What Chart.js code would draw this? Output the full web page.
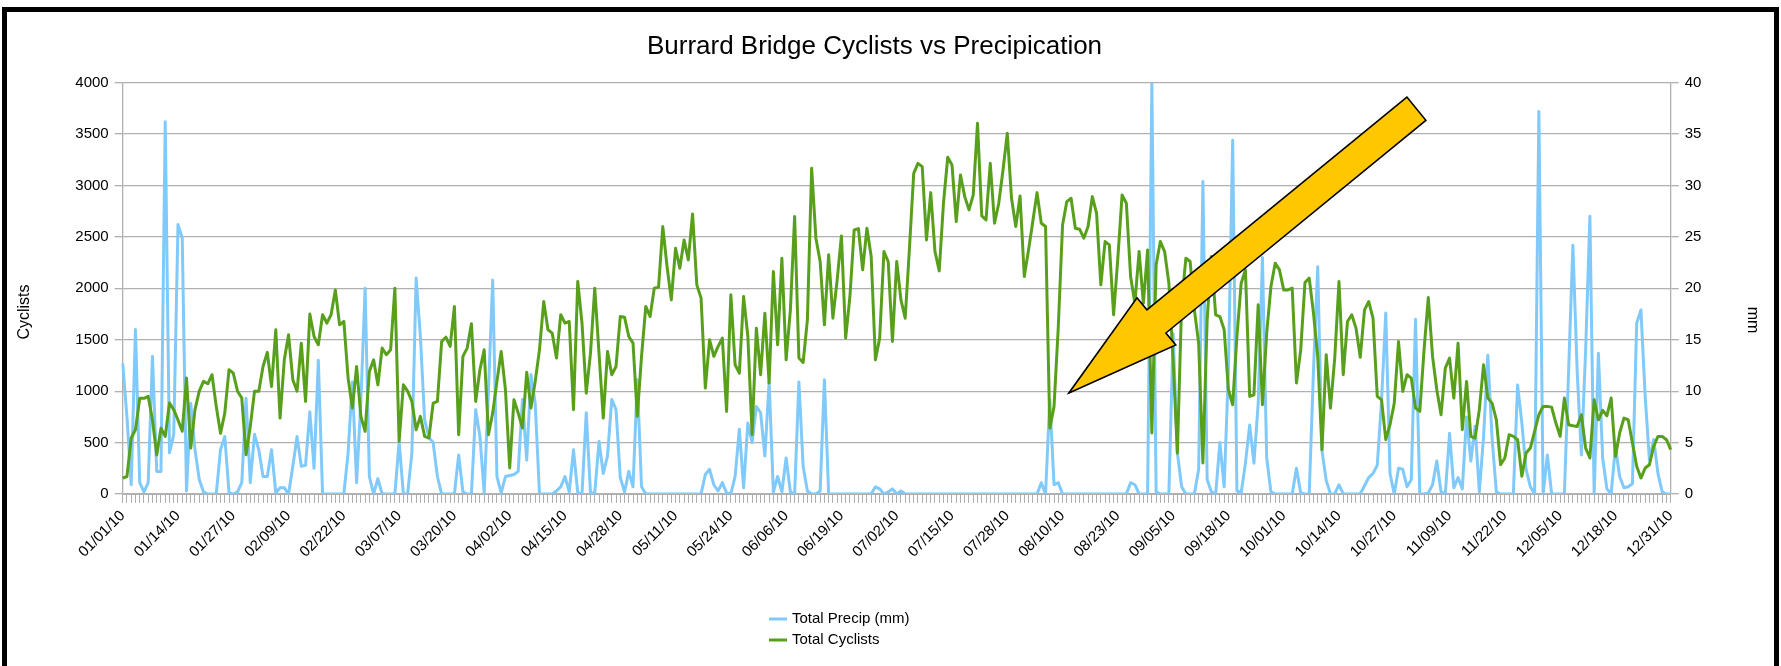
<!DOCTYPE html>
<html>
<head>
<meta charset="utf-8">
<title>Burrard Bridge Cyclists vs Precipication</title>
<script src="https://cdn.jsdelivr.net/npm/chart.js@4.4.1/dist/chart.umd.min.js"></script>
<style>
  html, body { margin: 0; padding: 0; background: #fff; }
  #wrap { width: 1781px; height: 666px; }
</style>
</head>
<body>
<div id="wrap"><canvas id="chart" width="1781" height="666"></canvas></div>
<script>
// daily counts across the bridge, 2010-01-01 .. 2010-12-31
const cyclists = [
  155,170,545,625,930,930,950,720,380,640,
  560,885,820,720,610,1127,447,820,1000,1095,
  1072,1160,850,590,787,1208,1176,1000,933,382,
  657,1000,1000,1240,1377,1046,1597,738,1305,1548,
  1111,1000,1467,900,1750,1532,1451,1743,1662,1743,
  1985,1645,1678,1127,836,1240,755,609,1192,1305,
  1062,1419,1354,1402,2002,512,1062,1000,900,625,
  755,560,544,884,900,1483,1525,1435,1824,577,
  1338,1419,1655,900,1208,1402,577,787,1095,1386,
  1014,253,917,787,641,1184,836,1095,1402,1872,
  1597,1564,1322,1743,1662,1678,820,2067,1662,981,
  1370,2002,1370,738,1386,1160,1240,1726,1720,1532,
  1467,755,1338,1824,1726,2002,2012,2601,2212,1888,
  2390,2196,2471,2277,2724,2034,1905,1030,1500,1338,
  1435,1516,803,1937,1257,1176,1921,1532,577,1613,
  1160,1759,1079,2164,1451,2293,1305,1791,2698,1322,
  1279,1694,3168,2488,2261,1645,2326,1710,2083,2510,
  1516,1921,2569,2581,2180,2585,2310,1305,1516,2358,
  2261,1483,2261,1888,1710,2390,3119,3216,3184,2471,
  2931,2358,2170,2828,3275,3200,2650,3103,2892,2763,
  2909,3605,2705,2666,3216,2633,2828,3151,3508,2876,
  2601,2899,2115,2374,2650,2931,2633,2601,641,852,
  1629,2617,2844,2876,2585,2575,2488,2601,2892,2730,
  2034,2455,2423,1743,2293,2909,2828,2115,1856,2358,
  1856,2374,593,2230,2455,2358,2050,1300,398,1856,
  2293,2261,1791,1467,301,1694,2310,1743,1726,1597,
  1014,868,1532,2050,2180,949,965,1840,868,1564,
  2018,2245,2180,1985,1985,2002,1079,1402,2057,2099,
  1759,1338,431,1354,836,1322,2067,1160,1678,1743,
  1613,1330,1791,1872,1710,949,917,528,674,884,
  1483,998,1160,1127,836,803,1400,1911,1338,1014,
  771,1224,1322,933,1467,625,1095,560,544,820,
  1257,933,884,722,285,350,577,560,528,172,
  398,447,609,771,852,852,845,690,560,933,
  674,664,657,771,447,350,917,722,813,761,
  933,366,593,738,722,496,269,155,253,285,
  463,560,560,528,431
];

// daily precipitation in mm
const precip = [
  12.7,7.5,0.9,16,1.1,0.2,1.1,13.4,2.2,2.2,
  36.2,4,5.8,26.2,24.9,0.3,8.8,4.3,1.4,0.2,
  0,0,0,4.3,5.6,0.1,0,0.2,1.1,9.3,
  1.1,5.8,4.3,1.7,1.7,4.3,0.1,0.6,0.6,0,
  2.7,5.6,2.7,2.8,8,2.5,13,0,0,0,
  0,0,0,4,10.9,1.1,9,20,1.7,0,
  1.5,0,0,0,0,5.1,0,0,4,21,
  15.3,7.2,5.5,5,1.7,0,0,0,0,3.8,
  0.2,0,0,8.2,5.6,0.1,10,20.8,1.7,0.1,
  1.7,1.8,1.9,2.2,9.2,3.3,11.6,8.8,0,0,
  0,0,0.3,0.7,1.7,0.2,4.3,0.1,0,7.9,
  0.1,0.1,5.1,2,3.7,9.2,8.2,1.6,0.2,2.2,
  0.7,11.1,0.7,0,0,0,0,0,0,0,
  0,0,0,0,0,0,0,1.9,2.4,0.9,
  0.3,1.1,0.1,0,1.7,6.3,0.6,6.9,5,8.5,
  7.9,3.7,10.9,0.2,1.7,0.2,3.5,0.2,0,10.9,
  2.7,0.3,0,0,0.3,11.1,0,0,0,0,
  0,0,0,0,0,0,0,0.7,0.5,0,
  0.2,0.5,0,0.3,0,0,0,0,0,0,
  0,0,0,0,0,0,0,0,0,0,
  0,0,0,0,0,0,0,0,0,0,
  0,0,0,0,0,0,1.1,0,9.2,0.9,
  1.1,0,0,0,0,0,0,0,0,0,
  0,0,0,0,0,0,0,1.1,0.9,0,
  0,0,40,0.2,0,0,0,15.6,4,0.7,
  0,0,0,2.4,30.4,1.4,0.2,0,5,0.7,
  12,34.4,0.3,0.1,3,6.7,3,8.8,23,3.5,
  0.2,0,0,0,0,0,2.5,0.1,0,0,
  12,22.1,4.2,1.3,0,0,0.9,0,0,0,
  0,0,0.8,1.6,2,2.8,9,17.6,2,0,
  2.5,2.4,0.7,1.4,17,0,0,0.1,0.9,3.2,
  0.2,0,5.9,0.6,1.6,0.5,7.5,3.2,6.6,0.2,
  5.6,13.5,5.4,0.2,0,0,0,0,10.6,6.9,
  2.4,0.7,0,37.2,0,3.8,0,0,0,0,
  12,24.2,12,3.8,14,27,0,13.7,3.5,0.5,
  0,4.6,1.7,0.6,0.7,1,16.6,17.9,9.5,3.3,
  5.3,2,0.2,0,0
];

// categories: every day of 2010 as MM/DD/YY, one label shown every 13 days
const days = [];
for (let d = new Date(2010, 0, 1); d.getFullYear() === 2010; d.setDate(d.getDate() + 1)) {
  const mm = String(d.getMonth() + 1).padStart(2, '0');
  const dd = String(d.getDate()).padStart(2, '0');
  days.push(mm + '/' + dd + '/10');
}
const labelEvery = 13;

// arrow callout, in data units (day index, cyclists)
const arrowTip = [222.5, 983];
const arrowTail = [304.2, 3747];

const FONT = '"Liberation Sans", Arial, Helvetica, sans-serif';
Chart.defaults.font.family = FONT;
Chart.defaults.color = '#000';

const GRID = '#b0b0b0';
const BLUE = '#80c9fb';
const GREEN = '#58a01c';

// axis titles, arrow, stacked legend and frame
const extras = {
  id: 'extras',
  afterDraw(chart) {
    const ctx = chart.ctx;
    const x = chart.scales.x, y = chart.scales.y;

    // axis titles (sit a bit below the plot middle, as in the original)
    ctx.save();
    ctx.font = '16px ' + FONT;
    ctx.fillStyle = '#000';
    ctx.textAlign = 'center';
    ctx.textBaseline = 'middle';
    ctx.translate(25, 312);
    ctx.rotate(-Math.PI / 2);
    ctx.fillText('Cyclists', 0, 0);
    ctx.restore();
    ctx.save();
    ctx.font = '16px ' + FONT;
    ctx.fillStyle = '#000';
    ctx.textAlign = 'center';
    ctx.textBaseline = 'middle';
    ctx.translate(1752, 320);
    ctx.rotate(Math.PI / 2);
    ctx.fillText('mm', 0, 0);
    ctx.restore();

    // arrow
    const px = v => x.getPixelForDecimal(v / (days.length - 1));
    const tip = [px(arrowTip[0]), y.getPixelForValue(arrowTip[1])];
    const tail = [px(arrowTail[0]), y.getPixelForValue(arrowTail[1])];
    let dx = tail[0] - tip[0], dy = tail[1] - tip[1];
    const len = Math.hypot(dx, dy);
    dx /= len; dy /= len;
    const nx = -dy, ny = dx;
    const headLen = 113, headW = 30.6, shaftW = 15;
    const bx = tip[0] + dx * headLen, by = tip[1] + dy * headLen;
    ctx.save();
    ctx.beginPath();
    ctx.moveTo(tip[0], tip[1]);
    ctx.lineTo(bx + nx * headW, by + ny * headW);
    ctx.lineTo(bx + nx * shaftW, by + ny * shaftW);
    ctx.lineTo(tail[0] + nx * shaftW, tail[1] + ny * shaftW);
    ctx.lineTo(tail[0] - nx * shaftW, tail[1] - ny * shaftW);
    ctx.lineTo(bx - nx * shaftW, by - ny * shaftW);
    ctx.lineTo(bx - nx * headW, by - ny * headW);
    ctx.closePath();
    ctx.fillStyle = '#ffc700';
    ctx.fill();
    ctx.lineWidth = 1.6;
    ctx.strokeStyle = '#000';
    ctx.stroke();
    ctx.restore();

    // legend, stacked
    ctx.save();
    ctx.font = '15px ' + FONT;
    ctx.textBaseline = 'middle';
    chart.data.datasets.forEach((ds, i) => {
      const ly = 619 + i * 21;
      ctx.strokeStyle = ds.borderColor;
      ctx.lineWidth = 3;
      ctx.beginPath();
      ctx.moveTo(769, ly);
      ctx.lineTo(787, ly);
      ctx.stroke();
      ctx.fillStyle = '#000';
      ctx.fillText(ds.label, 792, ly);
    });
    ctx.restore();

    // frame
    ctx.save();
    ctx.strokeStyle = '#000';
    ctx.lineWidth = 5;
    ctx.strokeRect(4.5, 9.5, 1772, 800);
    ctx.restore();
  }
};

new Chart(document.getElementById('chart'), {
  type: 'line',
  data: {
    labels: days,
    datasets: [
      {
        label: 'Total Precip (mm)',
        data: precip,
        yAxisID: 'y1',
        borderColor: BLUE,
        backgroundColor: BLUE,
        borderWidth: 3,
        pointRadius: 0,
        tension: 0,
        borderJoinStyle: 'round',
        order: 1
      },
      {
        label: 'Total Cyclists',
        data: cyclists,
        yAxisID: 'y',
        borderColor: GREEN,
        backgroundColor: GREEN,
        borderWidth: 3,
        pointRadius: 0,
        tension: 0,
        borderJoinStyle: 'round',
        order: 0
      }
    ]
  },
  options: {
    responsive: false,
    animation: false,
    devicePixelRatio: 1,
    // right padding shifts the title's centre to where the original has it
    layout: { padding: { left: 0, top: 0, bottom: 0, right: 32 } },
    plugins: {
      legend: { display: false },
      tooltip: { enabled: false },
      title: {
        display: true,
        text: 'Burrard Bridge Cyclists vs Precipication',
        font: { size: 26, weight: 'normal', family: FONT },
        color: '#000',
        padding: { top: 31.4, bottom: 20.1 }
      }
    },
    scales: {
      x: {
        offset: false,
        grid: { drawOnChartArea: false, drawTicks: true, tickLength: 9, color: GRID, lineWidth: 1 },
        border: { display: true, color: GRID },
        ticks: {
          autoSkip: false,
          minRotation: 45,
          maxRotation: 45,
          padding: 4,
          font: { size: 15 },
          callback: (v, i) => (i % labelEvery === 0 ? days[i] : '')
        },
        afterFit: s => { s.height = 172; }
      },
      y: {
        position: 'left',
        min: 0,
        max: 4000,
        ticks: { stepSize: 500, padding: 6, font: { size: 15 }, callback: v => String(v) },
        grid: { color: GRID, lineWidth: 1.3, tickLength: 8 },
        border: { display: true, color: GRID, width: 1.3 },
        afterFit: s => { s.width = 122.7; }
      },
      y1: {
        position: 'right',
        min: 0,
        max: 40,
        ticks: { stepSize: 5, padding: 6, font: { size: 15 }, callback: v => String(v) },
        grid: { drawOnChartArea: false, color: GRID, lineWidth: 1.3, tickLength: 8 },
        border: { display: true, color: GRID, width: 1.3 },
        afterFit: s => { s.width = 78.3; }
      }
    }
  },
  plugins: [extras]
});
</script>
</body>
</html>
